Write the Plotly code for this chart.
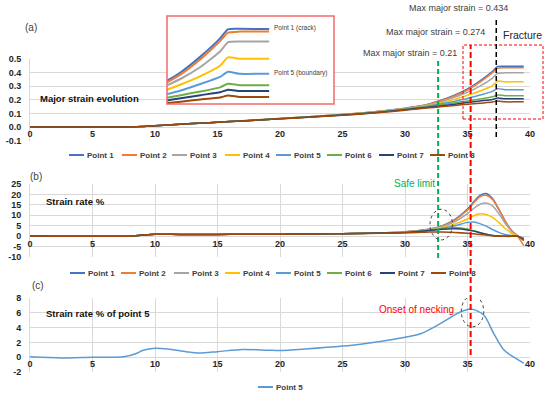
import plotly.graph_objects as go

W, H = 550, 395

# ---------------- data ----------------
series_names = ["Point 1", "Point 2", "Point 3", "Point 4", "Point 5", "Point 6", "Point 7", "Point 8"]
series_colors = ["#4472C4", "#ED7D31", "#A5A5A5", "#FFC000", "#5B9BD5", "#70AD47", "#264478", "#9E480E"]

# (a) major strain evolution
strain_x = [0, 2, 4, 6, 8, 9, 10, 12, 14, 16, 18, 20, 22, 24, 26, 28, 30, 31, 32, 33, 34, 35, 36, 37, 37.4, 38, 39, 39.5]
strain_p1 = [0, 0, 0, 0, 0, 0.003, 0.01, 0.02, 0.03, 0.04, 0.051, 0.063, 0.074, 0.086, 0.099, 0.116, 0.138, 0.152, 0.172, 0.2, 0.235, 0.28, 0.34, 0.41, 0.445, 0.447, 0.446, 0.446]
strain_p2 = [0, 0, 0, 0, 0, 0.003, 0.01, 0.02, 0.03, 0.04, 0.051, 0.063, 0.074, 0.086, 0.099, 0.116, 0.137, 0.151, 0.17, 0.197, 0.23, 0.272, 0.33, 0.4, 0.432, 0.436, 0.436, 0.436]
strain_p3 = [0, 0, 0, 0, 0, 0.003, 0.01, 0.02, 0.03, 0.04, 0.05, 0.062, 0.073, 0.085, 0.098, 0.115, 0.135, 0.148, 0.165, 0.19, 0.22, 0.255, 0.3, 0.36, 0.395, 0.398, 0.398, 0.398]
strain_p4 = [0, 0, 0, 0, 0, 0.003, 0.01, 0.02, 0.03, 0.04, 0.05, 0.062, 0.073, 0.084, 0.097, 0.114, 0.134, 0.146, 0.16, 0.18, 0.205, 0.233, 0.265, 0.305, 0.337, 0.332, 0.332, 0.332]
strain_p5 = [0, 0, 0, 0, 0, 0.003, 0.01, 0.02, 0.03, 0.04, 0.05, 0.061, 0.072, 0.083, 0.096, 0.112, 0.132, 0.143, 0.156, 0.172, 0.19, 0.21, 0.235, 0.262, 0.282, 0.274, 0.274, 0.274]
strain_p6 = [0, 0, 0, 0, 0, 0.003, 0.01, 0.02, 0.03, 0.04, 0.05, 0.061, 0.072, 0.083, 0.095, 0.111, 0.13, 0.14, 0.152, 0.165, 0.178, 0.192, 0.206, 0.222, 0.236, 0.23, 0.23, 0.23]
strain_p7 = [0, 0, 0, 0, 0, 0.003, 0.01, 0.02, 0.03, 0.04, 0.05, 0.06, 0.071, 0.082, 0.094, 0.109, 0.127, 0.137, 0.147, 0.157, 0.168, 0.18, 0.192, 0.203, 0.213, 0.208, 0.208, 0.208]
strain_p8 = [0, 0, 0, 0, 0, 0.003, 0.01, 0.02, 0.03, 0.04, 0.05, 0.06, 0.07, 0.08, 0.092, 0.106, 0.124, 0.133, 0.141, 0.15, 0.159, 0.167, 0.175, 0.183, 0.191, 0.185, 0.185, 0.185]
strain_series = [strain_p1, strain_p2, strain_p3, strain_p4, strain_p5, strain_p6, strain_p7, strain_p8]

# (b) strain rate %
rate_x = [0, 2, 4, 6, 8, 9, 10, 12, 14, 16, 18, 20, 22, 24, 26, 28, 30, 31, 32, 33, 34, 35, 35.5, 36, 36.5, 37, 37.5, 38, 38.5, 39, 39.5]
rate_p1 = [0.1, -0.1, -0.1, -0.1, 0, 0.5, 0.9, 0.8, 0.8, 0.85, 0.9, 0.95, 1.0, 1.1, 1.25, 1.5, 2.1, 2.6, 3.4, 5.0, 8.0, 13.0, 16.5, 19.5, 20.4, 18.0, 13.0, 7.4, 2.8, 0.2, -2.0]
rate_p2 = [0.1, -0.1, -0.1, -0.1, 0, 0.5, 0.9, 0.8, 0.8, 0.85, 0.9, 0.95, 1.0, 1.1, 1.25, 1.5, 2.1, 2.6, 3.4, 4.9, 7.8, 12.5, 16.0, 18.9, 19.6, 17.6, 12.8, 7.3, 2.8, 0.0, -4.5]
rate_p3 = [0.1, -0.1, -0.1, -0.1, 0, 0.5, 0.9, 0.8, 0.8, 0.85, 0.9, 0.95, 1.0, 1.1, 1.25, 1.5, 2.0, 2.5, 3.2, 4.6, 7.0, 10.8, 13.3, 15.3, 15.9, 14.5, 10.8, 6.3, 2.5, 0.2, -1.5]
rate_p4 = [0.1, -0.1, -0.1, -0.1, 0, 0.5, 0.9, 0.8, 0.8, 0.85, 0.9, 0.95, 1.0, 1.1, 1.25, 1.5, 2.0, 2.4, 3.0, 4.1, 5.8, 8.2, 9.8, 10.7, 10.4, 9.0, 6.6, 3.8, 1.5, 0.1, -1.2]
rate_p5 = [0.1, -0.1, -0.1, -0.1, 0, 0.5, 0.9, 0.8, 0.8, 0.85, 0.9, 0.95, 1.0, 1.1, 1.25, 1.5, 1.9, 2.3, 2.9, 3.8, 5.0, 6.6, 6.8, 6.0, 4.8, 3.2, 1.8, 0.8, 0.3, 0.0, -1.0]
rate_p6 = [0.1, -0.1, -0.1, -0.1, 0, 0.5, 0.9, 0.8, 0.8, 0.85, 0.9, 0.95, 1.0, 1.1, 1.25, 1.5, 1.8, 2.2, 2.8, 3.6, 4.1, 3.4, 2.6, 1.7, 0.9, 0.3, 0.1, 0.0, 0.0, 0.0, -1.0]
rate_p7 = [0.1, -0.1, -0.1, -0.1, 0, 0.5, 0.9, 0.8, 0.8, 0.85, 0.9, 0.95, 1.0, 1.1, 1.25, 1.5, 1.8, 2.2, 2.7, 3.3, 3.5, 3.0, 2.4, 1.6, 0.9, 0.3, 0.1, 0.0, 0.0, 0.0, -1.5]
rate_p8 = [0.1, -0.1, -0.1, -0.1, 0, 0.5, 0.9, 0.8, 0.8, 0.85, 0.9, 0.95, 1.0, 1.1, 1.25, 1.4, 1.6, 1.8, 2.0, 2.0, 1.8, 1.4, 1.1, 0.8, 0.5, 0.2, 0.0, -0.1, -0.1, 0.0, -2.0]
rate_series = [rate_p1, rate_p2, rate_p3, rate_p4, rate_p5, rate_p6, rate_p7, rate_p8]

# (c) strain rate % of point 5
p5_x = [0, 2.5, 5, 7.5, 8.5, 9, 10, 11, 12.5, 13.5, 15, 17, 19, 20, 22, 25, 27, 29, 30, 31.3, 32.9, 34.3, 35.3, 36.3, 37.1, 37.9, 38.6, 39.5]
p5_rate = [0.05, -0.1, 0.0, 0.05, 0.5, 0.9, 1.2, 1.1, 0.74, 0.56, 0.75, 1.05, 0.95, 0.9, 1.1, 1.5, 1.9, 2.4, 2.7, 3.2, 4.6, 6.0, 6.5, 5.7, 3.2, 1.0, 0.1, -0.8]

# tick labels
x_ticks = [0, 5, 10, 15, 20, 25, 30, 35, 40]
a_ticks = [-0.1, 0.0, 0.1, 0.2, 0.3, 0.4, 0.5]
a_ticklabels = ["-0.1", "0.0", "0.1", "0.2", "0.3", "0.4", "0.5"]
b_ticks = [-10, -5, 0, 5, 10, 15, 20, 25]
b_ticklabels = ["-10", "-5", "0", "5", "10", "15", "20", "25"]
c_ticks = [-2, 0, 2, 4, 6, 8]
c_ticklabels = ["-2", "0", "2", "4", "6", "8"]

# key x positions (data units)
safe_limit_x = 32.65
necking_x = 35.25
fracture_x = 37.3

# ---------------- helpers ----------------
def px(x):
    return x / W

def py(y):
    return 1 - y / H

FONT = "Liberation Sans, Arial, sans-serif"
GRID = "#D9D9D9"
TICKFONT = dict(family=FONT, size=9, color="#262626", weight="bold")

fig = go.Figure()

for name, col, ys in zip(series_names, series_colors, strain_series):
    fig.add_trace(go.Scatter(x=strain_x, y=ys, name=name, mode="lines",
                             line=dict(color=col, width=1.5, shape="spline", smoothing=0.6),
                             xaxis="x", yaxis="y", showlegend=False))
for name, col, ys in zip(series_names, series_colors, rate_series):
    fig.add_trace(go.Scatter(x=rate_x, y=ys, name=name, mode="lines",
                             line=dict(color=col, width=1.5, shape="spline", smoothing=0.8),
                             xaxis="x2", yaxis="y2", showlegend=False))
fig.add_trace(go.Scatter(x=p5_x, y=p5_rate, name="Point 5", mode="lines",
                         line=dict(color="#5B9BD5", width=1.5, shape="spline", smoothing=0.8),
                         xaxis="x3", yaxis="y3", showlegend=False))
# inset: zoom of (a)
for name, col, ys in zip(series_names, series_colors, strain_series):
    fig.add_trace(go.Scatter(x=strain_x, y=ys, name=name, mode="lines",
                             line=dict(color=col, width=2, shape="spline", smoothing=0.5),
                             xaxis="x4", yaxis="y4", showlegend=False))

XD = [px(30), px(530)]

def xaxis_common(pos, grid):
    return dict(domain=XD, range=[0, 40], tickvals=x_ticks, anchor="free", position=pos,
                showgrid=grid, gridcolor=GRID, gridwidth=1, zeroline=False, showline=False,
                ticks="", tickfont=TICKFONT, fixedrange=True, automargin=False)

def yaxis_common(dom, rng, tv, tt, xa):
    return dict(domain=dom, range=rng, tickvals=tv, ticktext=tt, anchor=xa,
                showgrid=True, gridcolor=GRID, gridwidth=1, zeroline=False,
                showline=True, linecolor=GRID, linewidth=1,
                ticks="", tickfont=TICKFONT, ticklabelstandoff=6, fixedrange=True, automargin=False)

fig.update_layout(
    template="none",
    width=W, height=H, margin=dict(l=0, r=0, t=0, b=0, pad=0), autosize=False,
    paper_bgcolor="white", plot_bgcolor="white", showlegend=False,
    font=dict(family=FONT, color="#404040"),
    xaxis=xaxis_common(py(127), False),
    yaxis=yaxis_common([py(140.6), py(59)], [-0.1, 0.5], a_ticks, a_ticklabels, "x"),
    xaxis2=xaxis_common(py(237), True),
    yaxis2=yaxis_common([py(257), py(184)], [-10, 25], b_ticks, b_ticklabels, "x2"),
    xaxis3=xaxis_common(py(357.3), True),
    yaxis3=yaxis_common([py(372), py(298)], [-2, 8], c_ticks, c_ticklabels, "x3"),
    xaxis4=dict(domain=[px(167), px(334)], range=[34.3, 42.8], anchor="y4", visible=False,
                fixedrange=True, automargin=False),
    yaxis4=dict(domain=[py(104), py(16)], range=[0.158, 0.496], anchor="x4", visible=False,
                fixedrange=True, automargin=False),
)

shapes = []
ann = []

def text(x, y, s, size=9, color="#404040", bold=False, xanchor="left"):
    ann.append(dict(x=px(x), y=py(y), xref="paper", yref="paper", text=s, showarrow=False,
                    xanchor=xanchor, yanchor="middle",
                    font=dict(family=FONT, size=size, color=color, weight="bold" if bold else "normal")))

# manual legends
def legend_row(y, starts, names, colors):
    for t, n, c in zip(starts, names, colors):
        shapes.append(dict(type="line", xref="paper", yref="paper", x0=px(t - 17), x1=px(t - 2),
                           y0=py(y), y1=py(y), line=dict(color=c, width=2)))
        ann.append(dict(x=px(t - 1), y=py(y), xref="paper", yref="paper", text=n, showarrow=False,
                        xanchor="left", yanchor="middle",
                        font=dict(family=FONT, size=8, color="#404040", weight="bold")))

legend_row(155, [86, 139, 189, 242, 293, 344, 396, 447], series_names, series_colors)
legend_row(273, [87, 138, 191, 242, 293, 344, 397, 448], series_names, series_colors)
legend_row(387, [275], ["Point 5"], ["#5B9BD5"])

# panel labels and titles
text(23, 27, "(a)", size=10)
text(28, 177, "(b)", size=10)
text(30, 285, "(c)", size=10)
text(38, 98, "Major strain evolution", size=9.5, color="#111111", bold=True)
text(44, 201, "Strain rate %", size=9.5, color="#111111", bold=True)
text(44, 313, "Strain rate % of point 5", size=9.5, color="#111111", bold=True)
text(407, 8, "Max major strain = 0.434", size=9)
text(384, 32, "Max major strain = 0.274", size=9)
text(361, 53, "Max major strain = 0.21", size=9)
text(501, 35, "Fracture", size=10.5, color="#262626")
text(392, 183, "Safe limit", size=10, color="#00B050")
text(377, 309, "Onset of necking", size=10, color="#FF0000")
text(272, 28, "Point 1 (crack)", size=6.5, color="#404040")
text(272, 73, "Point 5 (boundary)", size=6.5, color="#404040")

# inset border
shapes.append(dict(type="rect", xref="paper", yref="paper", x0=px(167), x1=px(334), y0=py(104), y1=py(16),
                   line=dict(color="#F26B6B", width=1.5), layer="above"))
# red dashed box around fracture zone
shapes.append(dict(type="rect", xref="paper", yref="paper", x0=px(463), x1=px(543), y0=py(119), y1=py(45),
                   line=dict(color="#FF0000", width=1, dash="3px,2px"), layer="above"))
# vertical dashed lines
shapes.append(dict(type="line", xref="x", yref="paper", x0=fracture_x, x1=fracture_x, y0=py(137), y1=py(20),
                   line=dict(color="#000000", width=1.5, dash="5px,3px"), layer="above"))
shapes.append(dict(type="line", xref="x", yref="paper", x0=safe_limit_x, x1=safe_limit_x, y0=py(258), y1=py(60),
                   line=dict(color="#00B050", width=2, dash="5px,3px"), layer="above"))
shapes.append(dict(type="line", xref="x", yref="paper", x0=necking_x, x1=necking_x, y0=py(355), y1=py(45),
                   line=dict(color="#FF0000", width=2, dash="6px,3px"), layer="above"))
# dotted ellipses
shapes.append(dict(type="circle", xref="x2", yref="y2", x0=32.0, x1=33.8,
                   y0=-1.8, y1=12.9, line=dict(color="#404040", width=1, dash="dot"), layer="above"))
shapes.append(dict(type="circle", xref="x3", yref="y3", x0=34.5, x1=36.3,
                   y0=4.1, y1=8.3, line=dict(color="#404040", width=1, dash="dot"), layer="above"))

fig.update_layout(shapes=shapes, annotations=ann)
fig.write_html("out.html", config={"displayModeBar": False, "staticPlot": True},
               post_script="document.body.style.margin='0';document.body.style.padding='0';")
